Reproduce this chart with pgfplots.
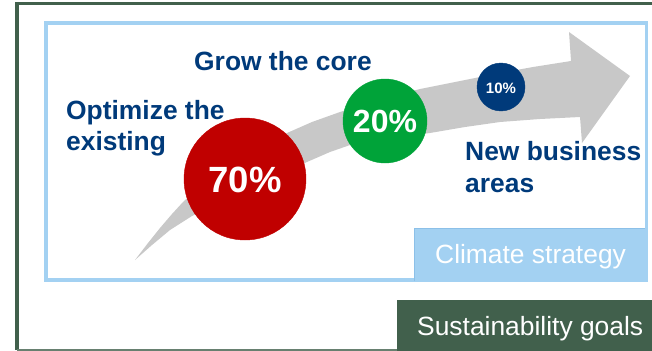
\documentclass[border=0pt]{standalone}
\usepackage{pgfplots}
\pgfplotsset{compat=1.18}
\usepackage{fontspec}
\setmainfont{Liberation Sans}
\definecolor{navy}{RGB}{0,58,122}
\definecolor{myred}{RGB}{192,0,0}
\definecolor{mygreen}{RGB}{0,163,57}
\definecolor{myblue}{RGB}{0,58,122}
\definecolor{arrowgray}{RGB}{200,200,200}
\definecolor{lightblue}{RGB}{163,209,242}
\definecolor{midblue}{RGB}{140,192,232}
\definecolor{darkgreen}{RGB}{65,96,76}
\tikzset{lbl/.style={anchor=base west,inner sep=0pt,text=navy,font=\fontsize{26.4bp}{30bp}\selectfont\bfseries}}
\begin{document}
\begin{tikzpicture}
\begin{axis}[width=652bp,height=351bp,scale only axis,hide axis,
  xmin=0,xmax=652,ymin=0,ymax=351,y dir=reverse,clip=false]
\coordinate (SW) at (axis cs:0,351);
\coordinate (NE) at (axis cs:652,0);
% outer frame
\draw[darkgreen,line width=3bp] (axis cs:652,3.5) -- (axis cs:17,3.5);
\draw[darkgreen,line width=4bp] (axis cs:17,2) -- (axis cs:17,350);
\draw[darkgreen!80,line width=2bp] (axis cs:17,349.8) -- (axis cs:652,349.8);
% inner frame
\draw[lightblue,line width=3.5bp] (axis cs:46,23) rectangle (axis cs:646.5,280);
\fill[lightblue] (axis cs:414.5,228.5) rectangle (axis cs:648.2,281.7);
\draw[midblue,line width=0.8bp] (axis cs:414.5,281) -- (axis cs:414.5,228.5) -- (axis cs:645,228.5);
\node[anchor=base west,inner sep=0pt,text=white,font=\fontsize{26.4bp}{30bp}\selectfont] at (axis cs:435,263) {Climate strategy};
% sustainability box
\fill[darkgreen] (axis cs:397,300) rectangle (axis cs:652,351);
\node[anchor=base west,inner sep=0pt,text=white,font=\fontsize{26.4bp}{30bp}\selectfont] at (axis cs:417,335) {Sustainability goals};
% arrow
\addplot[fill=arrowgray,draw=none] coordinates {
(135,260) (148,243) (160,228) (172,214) (183,202) (195,191) (230,163) (260,147)
(287,133) (312,122) (340,112) (380,99) (420,89) (460,81) (500,73) (533,67) (571,61)
(569,32) (630,76) (582,143) (580,117)
(540,119) (500,122) (465,127) (430,133) (390,138) (353,144) (330,152) (307,162)
(280,175) (250,190) (220,202) (192,216) (170,230) (152,245)
} -- cycle;
% circles
\addplot[only marks,mark=*,color=myred,mark size=61bp,
  nodes near coords={70\%},
  every node near coord/.style={anchor=base,inner sep=0pt,text=white,yshift=-13bp,
    font=\fontsize{36.5bp}{40bp}\selectfont\bfseries}] coordinates {(245,179)};
\addplot[only marks,mark=*,color=mygreen,mark size=42bp,
  nodes near coords={20\%},
  every node near coord/.style={anchor=base,inner sep=0pt,text=white,yshift=-11bp,
    font=\fontsize{32bp}{36bp}\selectfont\bfseries}] coordinates {(385,121)};
\addplot[only marks,mark=*,color=myblue,mark size=24bp,
  nodes near coords={10\%},
  every node near coord/.style={anchor=base,inner sep=0pt,text=white,yshift=-6bp,
    font=\fontsize{15bp}{18bp}\selectfont\bfseries}] coordinates {(501,87)};
% labels
\node[lbl] at (axis cs:194,70) {Grow the core};
\node[lbl] at (axis cs:66,119) {Optimize the};
\node[lbl] at (axis cs:66,150) {existing};
\node[lbl] at (axis cs:465,160) {New business};
\node[lbl] at (axis cs:465,192) {areas};
\end{axis}
\pgfresetboundingbox
\useasboundingbox (SW) rectangle (NE);
\end{tikzpicture}
\end{document}
